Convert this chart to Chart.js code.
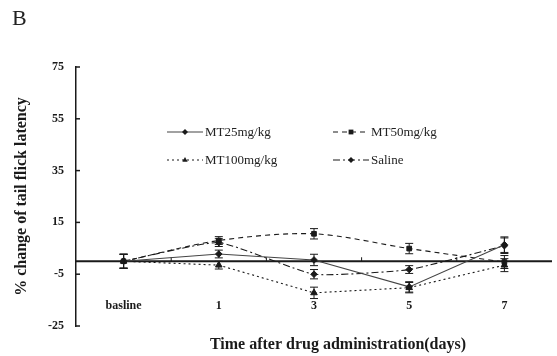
<!DOCTYPE html>
<html>
<head>
<meta charset="utf-8">
<script src="https://cdn.jsdelivr.net/npm/chart.js@4.4.1/dist/chart.umd.min.js"></script>
<style>
html, body { margin: 0; padding: 0; background: #fff; }
#wrap { position: relative; width: 557px; height: 356px; }
</style>
</head>
<body>
<div id="wrap"><canvas id="grafica"></canvas></div>
<script>
// days after drug administration
const labels = ['basline', '1', '3', '5', '7'];

const seriesNames = ['MT25mg/kg', 'MT50mg/kg', 'MT100mg/kg', 'Saline'];

// % change of tail flick latency (mean)
const mt25 = [0, 2.8, 0.5, -9.9, 6.4];
const mt50 = [0, 8.0, 10.6, 4.9, -0.3];
const mt100 = [0, -1.5, -12.2, -10.2, -1.5];
const saline = [0, 7.2, -5.0, -3.2, 6.0];

// error bars (+/-)
const mt25Err = [2.7, 1.5, 2.2, 2.0, 3.0];
const mt50Err = [2.7, 1.5, 2.0, 2.0, 2.5];
const mt100Err = [2.7, 1.5, 2.2, 2.0, 2.5];
const salineErr = [2.7, 1.5, 1.8, 1.5, 3.0];

const yTicks = { min: -25, max: 75, step: 20 };

const serif = '"Liberation Serif", "DejaVu Serif", serif';
const ink = '#1a1a1a';

const styles = [
    { dash: [], marker: 'rectRot', color: '#444', tension: 0 },
    { dash: [5, 4], marker: 'rect', color: ink, tension: 0.3 },
    { dash: [2, 3], marker: 'triangle', color: ink, tension: 0 },
    { dash: [7, 3, 2, 3], marker: 'rectRot', color: ink, tension: 0.15 }
];

const values = [mt25, mt50, mt100, saline];
const errors = [mt25Err, mt50Err, mt100Err, salineErr];

function make_dataset(i)
{
    const s = styles[i];
    return {
        label: seriesNames[i],
        data: values[i],
        borderColor: s.color,
        borderWidth: 1.1,
        borderDash: s.dash,
        tension: s.tension,
        pointStyle: s.marker,
        pointRadius: s.marker == 'triangle' ? 3.8 : 3.3,
        pointBackgroundColor: ink,
        pointBorderColor: ink,
        pointBorderWidth: 1,
        fill: false
    };
}

function draw_marker(ctx, style, x, y, r)
{
    ctx.beginPath();
    if (style == 'rect') {
        ctx.rect(x - r * 0.8, y - r * 0.8, r * 1.6, r * 1.6);
    } else if (style == 'triangle') {
        ctx.moveTo(x, y - r);
        ctx.lineTo(x + r * 0.9, y + r * 0.6);
        ctx.lineTo(x - r * 0.9, y + r * 0.6);
        ctx.closePath();
    } else {
        ctx.moveTo(x, y - r);
        ctx.lineTo(x + r, y);
        ctx.lineTo(x, y + r);
        ctx.lineTo(x - r, y);
        ctx.closePath();
    }
    ctx.fill();
}

const extras = {
    id: 'extras',
    beforeDatasetsDraw(chart) {
        const ctx = chart.ctx;
        const xs = chart.scales.x;
        const ys = chart.scales.y;
        const area = chart.chartArea;
        const y0 = ys.getPixelForValue(0);
        ctx.save();
        ctx.strokeStyle = ink;
        ctx.lineWidth = 2;
        ctx.beginPath();
        ctx.moveTo(area.left, y0);
        ctx.lineTo(area.right, y0);
        ctx.stroke();
        // small ticks between categories on the zero line
        ctx.lineWidth = 1;
        const step = xs.getPixelForValue(1) - xs.getPixelForValue(0);
        for (let i = 0; i < labels.length - 1; i++) {
            const x = xs.getPixelForValue(i) + step / 2;
            ctx.beginPath();
            ctx.moveTo(x, y0);
            ctx.lineTo(x, y0 - 4);
            ctx.stroke();
        }
        // inward ticks on the y axis
        ctx.lineWidth = 1.5;
        ys.ticks.forEach(function (t) {
            const y = ys.getPixelForValue(t.value);
            ctx.beginPath();
            ctx.moveTo(area.left, y);
            ctx.lineTo(area.left + 4, y);
            ctx.stroke();
        });
        ctx.restore();
    },
    afterDatasetsDraw(chart) {
        const ctx = chart.ctx;
        const xs = chart.scales.x;
        const ys = chart.scales.y;
        ctx.save();
        ctx.strokeStyle = ink;
        ctx.lineWidth = 1;
        for (let d = 0; d < values.length; d++) {
            for (let i = 0; i < labels.length; i++) {
                const x = xs.getPixelForValue(i);
                const top = ys.getPixelForValue(values[d][i] + errors[d][i]);
                const bot = ys.getPixelForValue(values[d][i] - errors[d][i]);
                ctx.beginPath();
                ctx.moveTo(x, top);
                ctx.lineTo(x, bot);
                ctx.moveTo(x - 4, top);
                ctx.lineTo(x + 4, top);
                ctx.moveTo(x - 4, bot);
                ctx.lineTo(x + 4, bot);
                ctx.stroke();
            }
        }
        ctx.restore();
    },
    afterDraw(chart) {
        const ctx = chart.ctx;
        const area = chart.chartArea;
        ctx.save();
        // legend, two columns inside the plot
        const cols = [area.left + 91, area.left + 257];
        const rows = [area.top + 65, area.top + 93];
        ctx.font = '13px ' + serif;
        ctx.textBaseline = 'middle';
        ctx.textAlign = 'left';
        for (let i = 0; i < seriesNames.length; i++) {
            const s = styles[i];
            const x = cols[i % 2];
            const y = rows[Math.floor(i / 2)];
            ctx.strokeStyle = s.color;
            ctx.lineWidth = 1.1;
            ctx.setLineDash(s.dash);
            ctx.beginPath();
            ctx.moveTo(x, y);
            ctx.lineTo(x + 36, y);
            ctx.stroke();
            ctx.setLineDash([]);
            ctx.fillStyle = ink;
            draw_marker(ctx, s.marker, x + 18, y, 3);
            ctx.fillStyle = '#222';
            ctx.fillText(seriesNames[i], x + 38, y + 1);
        }
        // x axis title
        ctx.font = 'bold 16px ' + serif;
        ctx.textAlign = 'center';
        ctx.fillStyle = ink;
        ctx.fillText('Time after drug administration(days)', (area.left + area.right) / 2 + 24, area.bottom + 19);
        ctx.restore();
    }
};

const chart = new Chart(document.getElementById('grafica'), {
    type: 'line',
    data: {
        labels: labels,
        datasets: [0, 1, 2, 3].map(make_dataset)
    },
    options: {
        responsive: true,
        maintainAspectRatio: false,
        animation: false,
        layout: {
            padding: { left: 12, right: 0, top: 0, bottom: 30 }
        },
        scales: {
            x: {
                type: 'category',
                offset: true,
                position: { y: -13 },
                grid: { display: false, drawTicks: false },
                border: { display: false },
                ticks: {
                    color: ink,
                    padding: 4,
                    font: { family: serif, size: 12, weight: 'bold' }
                }
            },
            y: {
                min: yTicks.min,
                max: yTicks.max,
                grid: { display: false, drawTicks: false },
                border: { display: true, color: ink, width: 1.5 },
                ticks: {
                    stepSize: yTicks.step,
                    color: ink,
                    padding: 12,
                    font: { family: serif, size: 12, weight: 'bold' }
                },
                title: {
                    display: true,
                    text: '% change of tail flick latency',
                    color: ink,
                    padding: { top: 0, bottom: 0 },
                    font: { family: serif, size: 16, weight: 'bold' }
                },
                afterFit(scale) {
                    scale.width = 64;
                }
            }
        },
        plugins: {
            legend: { display: false },
            tooltip: { enabled: false },
            title: {
                display: true,
                text: 'B',
                align: 'start',
                color: '#222',
                padding: { top: 6, bottom: 34.6 },
                font: { family: serif, size: 22, weight: 'normal' }
            }
        }
    },
    plugins: [extras]
});
</script>
</body>
</html>
